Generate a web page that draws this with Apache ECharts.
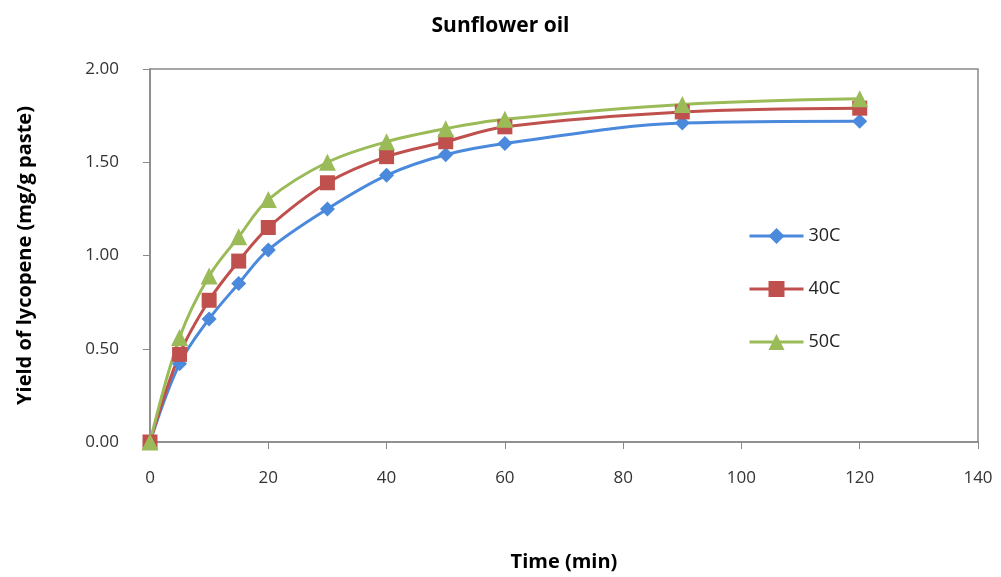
<!DOCTYPE html>
<html>
<head>
<meta charset="utf-8">
<script src="https://cdn.jsdelivr.net/npm/echarts@6/dist/echarts.min.js"></script>
<style>
  html, body { margin: 0; padding: 0; background: #fff; }
  #chart { width: 1001px; height: 577px; }
</style>
</head>
<body>
<div id="chart"></div>
<script>
// Extraction time (min)
const times = [0, 5, 10, 15, 20, 30, 40, 50, 60, 90, 120];
// Lycopene yield (mg/g paste) at each temperature
const yield30C = [0.00, 0.42, 0.66, 0.85, 1.03, 1.25, 1.43, 1.54, 1.60, 1.71, 1.72];
const yield40C = [0.00, 0.47, 0.76, 0.97, 1.15, 1.39, 1.53, 1.61, 1.69, 1.77, 1.79];
const yield50C = [0.00, 0.56, 0.89, 1.10, 1.30, 1.50, 1.61, 1.68, 1.73, 1.81, 1.84];
const seriesNames = ['30C', '40C', '50C'];

const font = '"Open Sans", "Noto Sans", sans-serif';
const axisGrey = '#898989';

function pairs(ys) { return times.map((t, i) => [t, ys[i]]); }

function lineSeries(name, ys, color, symbol, size) {
  return {
    name: name,
    type: 'line',
    smooth: 0.35,
    data: pairs(ys),
    symbol: symbol,
    symbolSize: size,
    lineStyle: { color: color, width: 3 },
    itemStyle: { color: color },
    emphasis: { disabled: true }
  };
}

const chart = echarts.init(document.getElementById('chart'));
chart.setOption({
  animation: false,
  backgroundColor: '#fff',
  title: {
    text: 'Sunflower oil',
    left: 'center',
    top: 11,
    textStyle: { fontFamily: font, fontSize: 21, fontWeight: 'bold', color: '#000' }
  },
  legend: {
    orient: 'vertical',
    left: 743,
    top: 222,
    itemWidth: 54,
    itemHeight: 20,
    itemGap: 35,
    data: seriesNames,
    lineStyle: { width: 3 },
    textStyle: { fontFamily: font, fontSize: 18, color: '#222' }
  },
  grid: { left: 150, right: 23, top: 69, bottom: 135, show: true, borderColor: axisGrey, borderWidth: 1.5 },
  xAxis: {
    type: 'value',
    min: 0, max: 140, interval: 20,
    name: 'Time (min)',
    nameLocation: 'middle',
    nameGap: 110,
    nameTextStyle: { fontFamily: font, fontSize: 20, fontWeight: 'bold', color: '#000' },
    axisLine: { lineStyle: { color: axisGrey, width: 1.5 } },
    axisTick: { show: true, length: 7, lineStyle: { color: axisGrey } },
    axisLabel: { fontFamily: font, fontSize: 17, color: '#333', margin: 28 },
    splitLine: { show: false }
  },
  yAxis: {
    type: 'value',
    min: 0, max: 2, interval: 0.5,
    name: 'Yield of lycopene (mg/g paste)',
    nameLocation: 'middle',
    nameGap: 115,
    nameTextStyle: { fontFamily: font, fontSize: 20, fontWeight: 'bold', color: '#000' },
    axisLine: { show: true, lineStyle: { color: axisGrey, width: 1.5 } },
    axisTick: { show: true, length: 7, lineStyle: { color: axisGrey } },
    axisLabel: { fontFamily: font, fontSize: 17, color: '#333', margin: 31, formatter: v => v.toFixed(2) },
    splitLine: { show: false }
  },
  series: [
    lineSeries(seriesNames[0], yield30C, '#4A89DC', 'diamond', 15),
    lineSeries(seriesNames[1], yield40C, '#C0504D', 'rect', 15),
    lineSeries(seriesNames[2], yield50C, '#9BBB59', 'triangle', 17)
  ]
});
</script>
</body>
</html>
